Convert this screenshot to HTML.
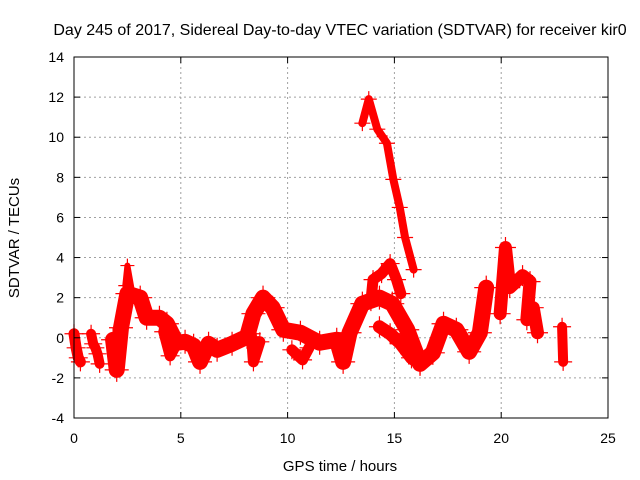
<!DOCTYPE html>
<html><head><meta charset="utf-8"><style>
body{margin:0;background:#fff;}
svg{display:block;font-family:"Liberation Sans",sans-serif;}
</style></head><body>
<svg id="chart" width="640" height="480">
<text x="340" y="35" text-anchor="middle" font-size="16">Day 245 of 2017, Sidereal Day-to-day VTEC variation (SDTVAR) for receiver kir0</text>
<text x="340" y="471" text-anchor="middle" font-size="15">GPS time / hours</text>
<text transform="translate(19,238) rotate(-90)" text-anchor="middle" font-size="15">SDTVAR / TECUs</text>
<g id="grid"></g><g id="marks"></g><g id="axes"></g>
</svg>
<script>
const xTicks=[0,5,10,15,20,25];
const yTicks=[-4,-2,0,2,4,6,8,10,12,14];
const segHours=[
 [0,0.1,0.2,0.3],
 [0.8,0.9,1.0,1.1,1.2],
 [1.83,2.0,2.2,2.5,3.1,3.4,4.0,4.35,4.8,5.2,5.6,5.9,6.3,6.7,7.4,8.1,8.4,8.85,9.3,9.8,10.6,11.5,12.3,12.6,12.9,13.5,14.3,14.9,15.6,16.2,16.8,17.3,17.9,18.5,19.0,19.3],
 [4.2,4.5,4.8],
 [8.3,8.4,8.7],
 [10.2,10.7,11.0],
 [13.9,14.0,14.4,14.8,15.1,15.3],
 [14.3,14.8,15.3,15.8,16.2],
 [13.5,13.8,14.2,14.65,14.95,15.25,15.5,15.9],
 [19.95,20.2,20.4,21.0,21.35,21.2,21.5,21.7],
 [22.85,22.9],
 [2.4,2.5,2.7]
];
const segValues=[
 [0.2,-0.5,-1.0,-1.2],
 [0.2,-0.3,-0.5,-0.8,-1.3],
 [-0.1,-1.6,0.5,2.2,2.0,1.0,1.0,0.7,-0.25,-0.2,-0.4,-1.2,-0.3,-0.6,-0.3,0.05,1.2,2.0,1.5,0.4,0.25,-0.25,-0.1,-1.2,0.25,1.7,2.0,1.7,0.4,-1.3,-0.75,0.7,0.4,-0.7,0.25,2.5],
 [0.3,-0.9,-0.3],
 [0.2,-1.2,-0.2],
 [-0.6,-1.1,-0.5],
 [1.8,2.9,3.2,3.7,2.9,2.2],
 [0.55,0.2,-0.3,-1.0,-1.3],
 [10.7,11.9,10.4,9.7,7.9,6.5,5.0,3.4],
 [1.2,4.5,2.5,3.1,2.8,0.9,1.5,0.25],
 [0.55,-1.2],
 [2.6,3.6,2.4]
];
const W=[11,10,16,11,11,11,11,13,8,13,10,6];
const X0=74,X1=608,Y0=418,Y1=57;
const xs=h=>X0+h/25*(X1-X0);
const ys=v=>Y0-(v+4)/18*(Y0-Y1);
const NS="http://www.w3.org/2000/svg";
function mk(t,a,p){const e=document.createElementNS(NS,t);for(const k in a)e.setAttribute(k,a[k]);p.appendChild(e);return e;}
const grid=document.getElementById('grid'),axes=document.getElementById('axes'),marks=document.getElementById('marks');
xTicks.forEach(t=>{
 if(t>0&&t<25){const g=mk('line',{x1:xs(t),x2:xs(t),y1:Y1,y2:Y0,stroke:'#a0a0a0','stroke-dasharray':'2,3'},grid);
 
 }
 const l=mk('text',{x:xs(t),y:Y0+25,'text-anchor':'middle','font-size':14},axes);l.textContent=t;
 
 
 mk('line',{x1:xs(t),x2:xs(t),y1:Y0,y2:Y0-6,stroke:'#000'},axes);
 mk('line',{x1:xs(t),x2:xs(t),y1:Y1,y2:Y1+6,stroke:'#000'},axes);
});
yTicks.forEach(t=>{
 if(t>-4&&t<14){const g=mk('line',{x1:X0,x2:X1,y1:ys(t),y2:ys(t),stroke:'#a0a0a0','stroke-dasharray':'2,3'},grid);
 
 }
 const l=mk('text',{x:X0-10,y:ys(t)+5,'text-anchor':'end','font-size':14},axes);l.textContent=t;
 
 
 mk('line',{x1:X0,x2:X0+6,y1:ys(t),y2:ys(t),stroke:'#000'},axes);
 mk('line',{x1:X1,x2:X1-6,y1:ys(t),y2:ys(t),stroke:'#000'},axes);
});
const fr=mk('rect',{x:X0,y:Y1,width:X1-X0,height:Y0-Y1,fill:'none',stroke:'#000'},axes);


segHours.forEach((hs,i)=>{
 const vs=segValues[i];
 const pts=hs.map((h,j)=>xs(h)+','+ys(vs[j])).join(' ');
 const pl=mk('polyline',{points:pts,fill:'none',stroke:'#f00','stroke-width':W[i],'stroke-linejoin':'round','stroke-linecap':'round'},marks);
 
 
 hs.forEach((h,j)=>{
  const x=xs(h),y=ys(vs[j]);
  const p=mk('path',{d:`M${x-W[i]/2-4},${y}H${x+W[i]/2+4}M${x},${y-W[i]/2-4}V${y+W[i]/2+4}`,stroke:'#f00','stroke-width':1.2},marks);
  
  
 });
});
</script>
</body></html>
